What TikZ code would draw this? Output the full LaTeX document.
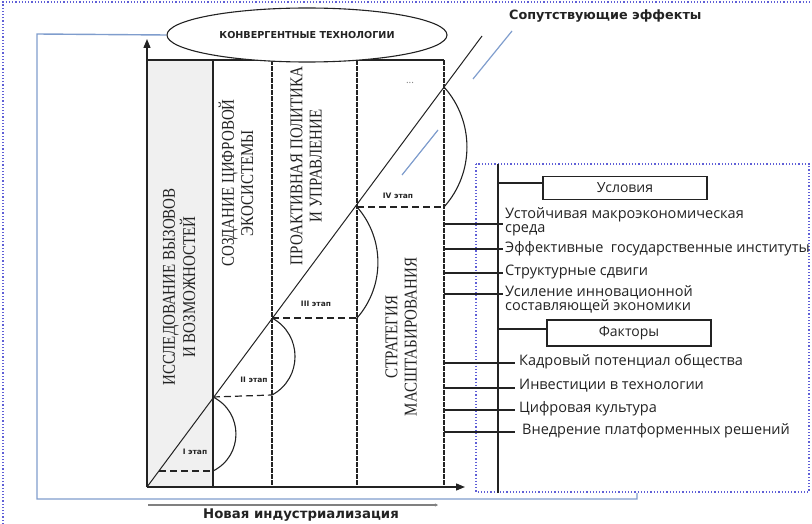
\documentclass[tikz,border=0pt]{standalone}
\usepackage{fontspec}
\setmainfont{Liberation Serif}
\newfontfamily\ui{Open Sans}
\newfontfamily\bui{DejaVu Sans}
\usetikzlibrary{shapes.geometric,arrows.meta}
\definecolor{blueline}{RGB}{127,157,205}
\definecolor{dotblue}{RGB}{95,95,215}
\definecolor{colfill}{RGB}{240,240,240}
\definecolor{ink}{RGB}{35,35,35}
\newcommand{\coltwo}[2]{\scalebox{1}[1.2]{\begin{tabular}{@{}c@{}}#1\\[-1pt]#2\end{tabular}}}
\begin{document}
\begin{tikzpicture}[x=1pt,y=-1pt,
  ln/.style={draw=ink,line width=1.1pt},
  heavydash/.style={draw=ink,line width=1.7pt,dash pattern=on 5pt off 1pt},
  stagedash/.style={draw=ink,line width=1.2pt,dash pattern=on 7pt off 4pt},
  coltext/.style={rotate=90,inner sep=0pt,font=\fontsize{15}{17}\selectfont,text=ink},
  stagelbl/.style={font=\bui\bfseries\fontsize{7.5}{8}\selectfont,text=ink},
  rtext/.style={anchor=west,align=left,inner sep=0pt,font=\ui\fontsize{14.5}{14}\selectfont,text=ink},
  hdbox/.style={draw=ink,line width=1.1pt,minimum width=164pt,minimum height=23pt,inner sep=0pt,font=\ui\fontsize{14}{14}\selectfont,text=ink},
  bluestroke/.style={draw=blueline,line width=1.4pt}
]
\useasboundingbox (0,0) rectangle (812,524);
% page border (top and left)
\draw[dotblue,dotted,line width=1.2pt] (3,524) -- (3,2) -- (812,2);
% key coordinates
\coordinate (O) at (147,487);
\coordinate (Ytop) at (147,39);
\coordinate (Xend) at (465,487);
\coordinate (D) at (482,36);
% column 1 fill
\fill[colfill] (147,60) rectangle (213,487);
% top border
\draw[ln] (147,60) -- (444,60);
% column dividers
\draw[ln] (213,60) -- (213,487);
\draw[heavydash] (272,60) -- (272,487);
\draw[heavydash] (357,60) -- (357,487);
\draw[heavydash] (444,60) -- (444,487);
% column texts
\node[coltext] (c1) at (181,287) {\coltwo{ИССЛЕДОВАНИЕ ВЫЗОВОВ}{И ВОЗМОЖНОСТЕЙ}};
\node[coltext] (c2) at (239,183) {\coltwo{СОЗДАНИЕ ЦИФРОВОЙ}{ЭКОСИСТЕМЫ}};
\node[coltext] (c3) at (308,166) {\coltwo{ПРОАКТИВНАЯ ПОЛИТИКА}{И УПРАВЛЕНИЕ}};
\node[coltext] (c4) at (403,337) {\coltwo{СТРАТЕГИЯ}{МАСШТАБИРОВАНИЯ}};
% diagonal
\draw[ink,line width=1pt] (O) -- (D);
% stage points
\coordinate (s0) at (159,471);
\coordinate (p1) at (213,471);
\coordinate (q1) at (213,397);
\coordinate (p2) at (272,395);
\coordinate (q2) at (272,318);
\coordinate (p3) at (357,318);
\coordinate (q3) at (357,207);
\coordinate (p4) at (444,207);
\coordinate (q4) at (444,87);
% dashed horizontals
\draw[stagedash] (s0) -- (p1);
\draw[stagedash] (q1) -- (p2);
\draw[stagedash] (q2) -- (p3);
\draw[stagedash] (q3) -- (p4);
% arcs
\draw[ink,line width=1.1pt] (p1) .. controls (243.6,455.8) and (243.6,412.2) .. (q1);
\draw[ink,line width=1.1pt] (p2) .. controls (302.7,378.5) and (302.7,334.5) .. (q2);
\draw[ink,line width=1.1pt] (p3) .. controls (384.9,286.4) and (384.9,238.6) .. (q3);
\draw[ink,line width=1.1pt] (p4) .. controls (474.6,172.9) and (474.6,121.1) .. (q4);
% stage labels
\node[stagelbl] (st1) at (195,452) {I этап};
\node[stagelbl] (st2) at (254,380) {II этап};
\node[stagelbl] (st3) at (316,304) {III этап};
\node[stagelbl] (st4) at (398,196) {IV этап};
\node[font=\ui\fontsize{10}{10}\selectfont,text=gray] (dots) at (410,83) {...};
% axes
\draw[ink,line width=1.3pt,-{Triangle[length=9pt,width=7pt]}] (O) -- (Ytop);
\draw[ink,line width=1.3pt,-{Triangle[length=9pt,width=7pt]}] (O) -- (Xend);
% ellipse
\node[ellipse,draw=ink,line width=1.1pt,fill=white,minimum width=280pt,minimum height=54pt,inner sep=0pt,
  font=\bui\bfseries\fontsize{9.6}{11}\selectfont,text=ink] (conv) at (307,35) {КОНВЕРГЕНТНЫЕ ТЕХНОЛОГИИ};
% blue feedback line
\coordinate (bA) at (37,34);
\coordinate (bB) at (37,499);
\coordinate (bC) at (637,499);
\coordinate (bD) at (637,493);
\draw[bluestroke] (conv.west) -- (bA) -- (bB) -- (bC) -- (bD);
% blue effect strokes
\coordinate (e1a) at (402,175); \coordinate (e1b) at (438,130);
\coordinate (e2a) at (473,79); \coordinate (e2b) at (512,31);
\draw[blueline,line width=1.2pt] (e1a) -- (e1b);
\draw[blueline,line width=1.2pt] (e2a) -- (e2b);
% titles
\node[font=\bui\bfseries\fontsize{12.8}{14}\selectfont,text=ink,anchor=west,inner sep=0pt] (eff) at (509,16) {Сопутствующие эффекты};
\coordinate (nA) at (148,505); \coordinate (nB) at (438,505);
\draw[draw=gray,line width=1.4pt,-{Stealth[length=3pt,width=3pt]}] (nA) -- (nB);
\node[font=\bui\bfseries\fontsize{13.3}{14}\selectfont,text=ink] (ind) at (301,515) {Новая индустриализация};
% right dotted box
\draw[dotblue,dotted,line width=1.2pt] (476,164) rectangle (809,492);
% bus
\coordinate (busT) at (498,164);
\coordinate (busB) at (498,493);
\draw[ln] (busT) -- (busB);
% headers
\node[hdbox] (usl) at (625,188) {Условия};
\node[hdbox,minimum height=26pt] (fak) at (629,333) {Факторы};
\draw[ln] (498,183) -- (usl.west |- 0,183);
\draw[ln] (498,329) -- (fak.west |- 0,329);
% condition texts
\node[rtext] (t1) at (505,222) {Устойчивая макроэкономическая\\среда};
\node[rtext] (t2) at (505,249) {Эффективные\ \ государственные институты};
\node[rtext] (t3) at (505,272) {Структурные сдвиги};
\node[rtext] (t4) at (505,299) {Усиление инновационной\\составляющей экономики};
\node[rtext] (t5) at (519,362) {Кадровый потенциал общества};
\node[rtext] (t6) at (519,386) {Инвестиции в технологии};
\node[rtext] (t7) at (519,409) {Цифровая культура};
\node[rtext] (t8) at (522,431) {Внедрение платформенных решений};
% connectors from column border to bus to text
\foreach \yy/\xe/\nm in {224/503/a1,249/503/a2,273/503/a3,294/503/a4,363/515/a5,388/515/a6,410/515/a7,432/515/a8}{
  \coordinate (\nm L) at (444,\yy);
  \coordinate (\nm R) at (\xe,\yy);
  \draw[ln] (\nm L) -- (\nm R);
}
\end{tikzpicture}
\end{document}
